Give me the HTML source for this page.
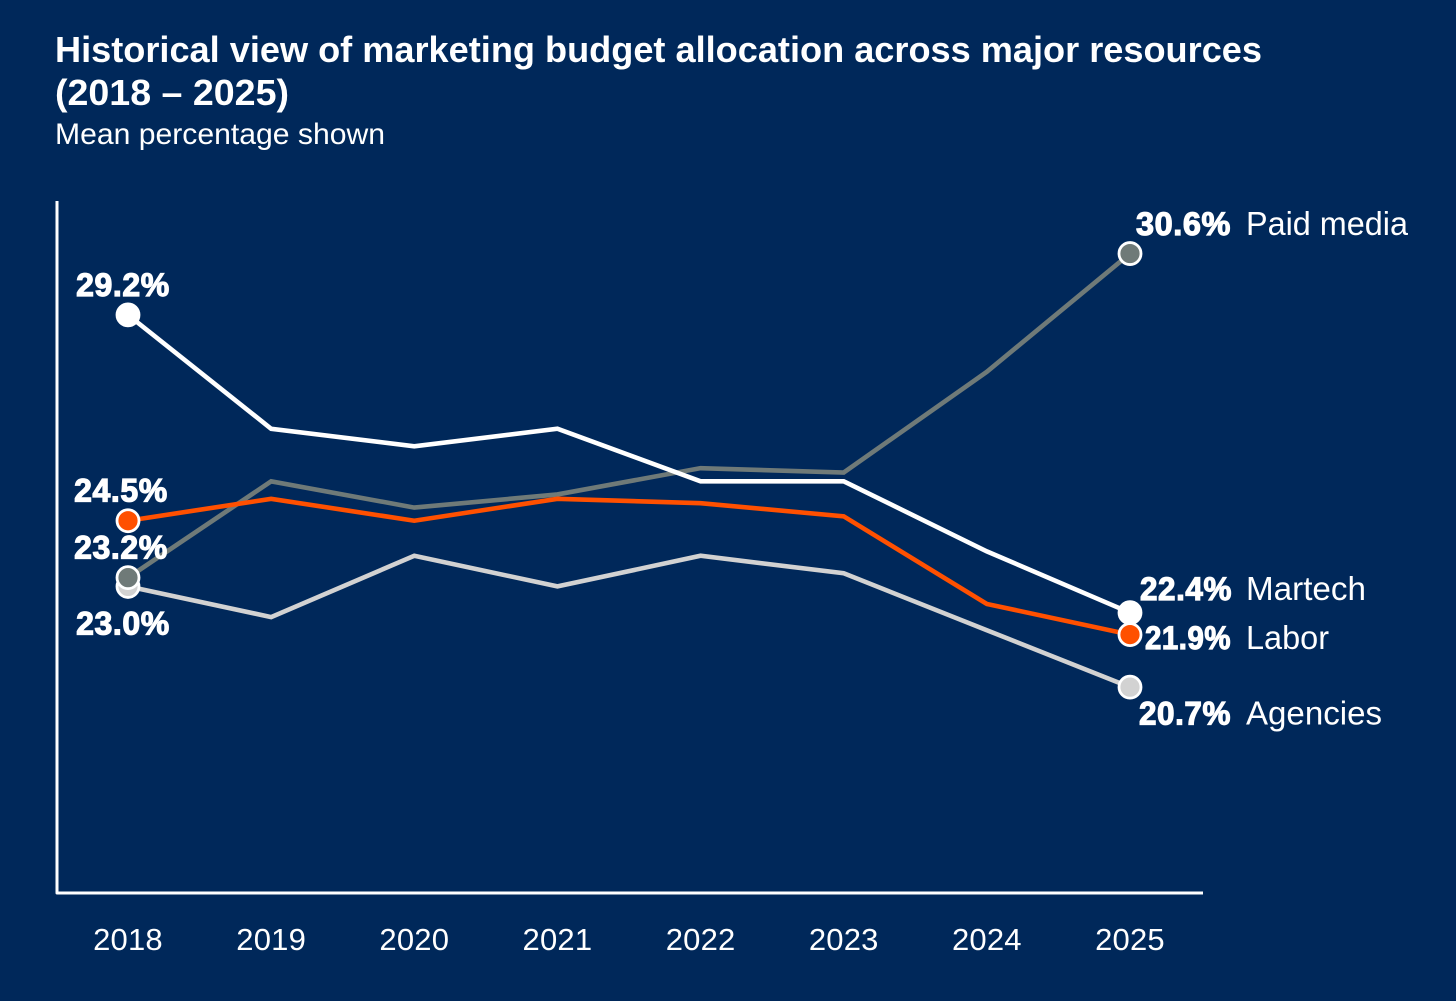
<!DOCTYPE html>
<html lang="en">
<head>
<meta charset="utf-8">
<title>Historical view of marketing budget allocation</title>
<style>
  html, body { margin: 0; padding: 0; background: #00285a; }
  svg { display: block; font-family: "Liberation Sans", sans-serif; }
  .value-label { font-size: 32px; font-weight: 700; fill: #fff; stroke: #fff; stroke-width: 1.2px; letter-spacing: .6px; }
  .series-name { font-size: 33px; fill: #fff; }
  .tick { font-size: 31px; fill: #fff; text-anchor: middle; letter-spacing: .2px; }
</style>
</head>
<body>
<svg id="chart" width="1456" height="1001" viewBox="0 0 1456 1001" xmlns="http://www.w3.org/2000/svg">
  <rect width="1456" height="1001" fill="#00285a"/>
  <text x="55" y="62" font-size="36" font-weight="700" fill="#fff" textLength="1207" lengthAdjust="spacingAndGlyphs">Historical view of marketing budget allocation across major resources</text>
  <text x="55" y="105" font-size="36" font-weight="700" fill="#fff" textLength="234" lengthAdjust="spacingAndGlyphs">(2018 – 2025)</text>
  <text x="55" y="144" font-size="30" fill="#fff" textLength="330" lengthAdjust="spacingAndGlyphs">Mean percentage shown</text>
  <g id="axes"></g>
  <g id="series"></g>
  <g id="labels"></g>
</svg>
<script>
const years = ["2018", "2019", "2020", "2021", "2022", "2023", "2024", "2025"];
const agencies = [23.0, 22.3, 23.7, 23.0, 23.7, 23.3, 22.0, 20.7];
const paidMedia = [23.2, 25.4, 24.8, 25.1, 25.7, 25.6, 27.9, 30.6];
const martech = [29.2, 26.6, 26.2, 26.6, 25.4, 25.4, 23.8, 22.4];
const labor = [24.5, 25.0, 24.5, 25.0, 24.9, 24.6, 22.6, 21.9];
const yDomain = [16, 31.8];

const NS = "http://www.w3.org/2000/svg";
const plot = { left: 57, right: 1203, top: 201, bottom: 893, firstX: 128, lastX: 1130 };

function xScale(i) {
  return plot.firstX + i * (plot.lastX - plot.firstX) / (years.length - 1);
}
function yScale(v) {
  return plot.bottom - (v - yDomain[0]) / (yDomain[1] - yDomain[0]) * (plot.bottom - plot.top);
}
function make(tag, attrs, parent, text) {
  const el = document.createElementNS(NS, tag);
  for (const k in attrs) el.setAttribute(k, attrs[k]);
  if (text !== undefined) el.textContent = text;
  parent.appendChild(el);
  return el;
}

const axes = document.getElementById("axes");
const seriesGroup = document.getElementById("series");
const labels = document.getElementById("labels");

const axisLines = make("path", {
  d: "M" + plot.left + " " + plot.top + "V" + plot.bottom + "H" + plot.right,
  fill: "none", stroke: "#fff", "stroke-width": 3, "stroke-linejoin": "round"
}, axes);



years.forEach(function (year, i) {
  const tick = make("text", { class: "tick", x: xScale(i), y: 950 }, axes, year);
  
  
});

const seriesList = [
  { name: "Agencies", key: "agencies", values: agencies, color: "#d2d2d2", startDx: -5, startDy: 48, endDy: 37, endRight: 1231, endWidth: 92, nameWidth: 136 },
  { name: "Paid media", key: "paid-media", values: paidMedia, color: "#6f7a78", startDx: -7, startDy: -19, endDy: -19, endRight: 1231, endWidth: 95, nameWidth: 162 },
  { name: "Martech", key: "martech", values: martech, color: "#ffffff", startDx: -5, startDy: -19, endDy: -13, endRight: 1232, endWidth: 92, nameWidth: 120 },
  { name: "Labor", key: "labor", values: labor, color: "#ff5000", startDx: -7, startDy: -19, endDy: 14, endRight: 1231, endWidth: 86, nameWidth: 83 }
];

seriesList.forEach(function (s) {
  const points = s.values.map(function (v, i) { return xScale(i) + "," + yScale(v); }).join(" ");
  const line = make("polyline", {
    points: points, fill: "none", stroke: s.color, "stroke-width": 4.6, "stroke-linejoin": "miter"
  }, seriesGroup);
  
  
});

seriesList.forEach(function (s) {
  [0, s.values.length - 1].forEach(function (i) {
    const marker = make("circle", {
      cx: xScale(i), cy: yScale(s.values[i]), r: 11,
      fill: s.color, stroke: "#fff", "stroke-width": 2.8
    }, seriesGroup);
    
    
  });

  const last = s.values.length - 1;
  const startLabel = make("text", {
    class: "value-label", "text-anchor": "middle",
    x: xScale(0) + s.startDx, y: yScale(s.values[0]) + s.startDy
  }, labels, s.values[0].toFixed(1) + "%");
  
  

  const endY = yScale(s.values[last]) + s.endDy + 0.5;
  const endLabel = make("text", {
    class: "value-label", x: s.endRight - s.endWidth, y: endY,
    textLength: s.endWidth, lengthAdjust: "spacingAndGlyphs"
  }, labels, s.values[last].toFixed(1) + "%");
  
  

  const nameLabel = make("text", {
    class: "series-name", x: 1246, y: endY,
    textLength: s.nameWidth, lengthAdjust: "spacingAndGlyphs"
  }, labels, s.name);
  
  
});
</script>
</body>
</html>
